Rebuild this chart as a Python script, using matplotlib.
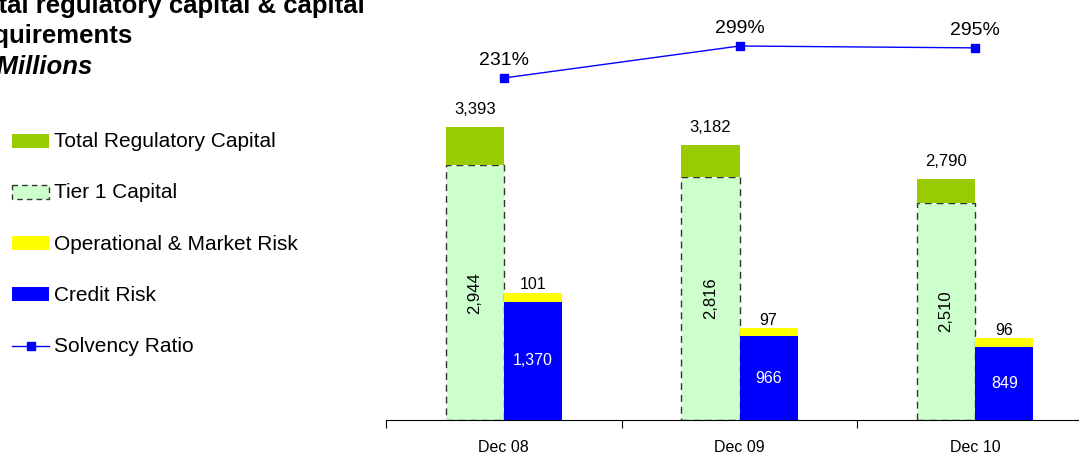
import matplotlib
matplotlib.use("Agg")
import matplotlib.pyplot as plt
from matplotlib.patches import Rectangle
from matplotlib.lines import Line2D

plt.rcParams['font.family'] = ['Liberation Sans', 'DejaVu Sans']

# data
periods = ["Dec 08", "Dec 09", "Dec 10"]
total_capital = [3393, 3182, 2790]
tier1_capital = [2944, 2816, 2510]
credit_risk = [1370, 966, 849]
op_market_risk = [101, 97, 96]
solvency_ratio = [231, 299, 295]

GREEN = "#99CC00"
LIGHT_GREEN = "#CCFFCC"
YELLOW = "#FFFF00"
BLUE = "#0000FF"

W, H = 1079, 453
fig = plt.figure(figsize=(W / 100, H / 100), dpi=100)

# main axes (pixel geometry)
x_left, x_right, y_top, y_bot = 386, 1093, 10, 420
ax = fig.add_axes([x_left / W, 1 - y_bot / H, (x_right - x_left) / W, (y_bot - y_top) / H])
px = 0.08645  # pixels per unit on the bar axis

x = list(range(len(periods)))
bw = 0.247
xg = [i - bw / 2 for i in x]
xb = [i + bw / 2 for i in x]

# tier 1 bars with dashed outline, total capital on top of them
ax.bar(xg, tier1_capital, width=bw, color=LIGHT_GREEN, edgecolor="#333333",
       linestyle=(0, (5, 3.5)), linewidth=1.0, zorder=2)
ax.bar(xg, [t - t1 for t, t1 in zip(total_capital, tier1_capital)], bottom=tier1_capital,
       width=bw, color=GREEN, zorder=3)
ax.bar(xb, credit_risk, width=bw, color=BLUE, zorder=2)
ax.bar(xb, op_market_risk, bottom=credit_risk, width=bw, color=YELLOW, zorder=2)

for i in x:
    ax.text(xg[i], total_capital[i] + 13 / px, f"{total_capital[i]:,}", ha="center", va="baseline", fontsize=12)
    ax.text(xg[i], tier1_capital[i] / 2, f"{tier1_capital[i]:,}", ha="center", va="center",
            rotation=90, fontsize=12, zorder=5)
    ax.text(xb[i], credit_risk[i] / 2, f"{credit_risk[i]:,}", ha="center", va="center",
            color="white", fontsize=11.5, zorder=5)
    top = credit_risk[i] + op_market_risk[i]
    ax.text(xb[i], top + 3.5 / px, f"{op_market_risk[i]}", ha="center", va="baseline", fontsize=11.5)

ax.set_xlim(-0.5, 2.5)
ax.set_ylim(0, (y_bot - y_top) / px)
ax.set_yticks([])
for s in ["top", "right", "left"]:
    ax.spines[s].set_visible(False)
ax.spines["bottom"].set_linewidth(0.8)
ax.set_xticks([-0.5, 0.5, 1.5, 2.5])
ax.set_xticklabels([])
ax.tick_params(axis="x", length=6, width=0.8, direction="out")
ax.set_xticks(x, minor=True)
ax.set_xticklabels(periods, minor=True, fontsize=11.5)
ax.tick_params(axis="x", which="minor", length=0, pad=14.5)

# solvency ratio on secondary axis
ax2 = ax.twinx()
k = 0.4706
ax2.set_ylim(231 - (y_bot - 78) / k, 231 + (78 - y_top) / k)
ax2.plot(x, solvency_ratio, color=BLUE, linewidth=1.0, marker="s", markersize=5.5, zorder=4)
for i in x:
    ax2.text(x[i], solvency_ratio[i] + 13 / k, f"{solvency_ratio[i]}%", ha="center", va="baseline", fontsize=14)
ax2.axis("off")

# title (clipped at the left edge like the reference)
tx = -31 / W
fig.text(tx, 1 - 13 / H, "Total regulatory capital & capital", fontsize=18.5, fontweight="bold", va="baseline")
fig.text(tx, 1 - 43 / H, "requirements", fontsize=18.5, fontweight="bold", va="baseline")
fig.text(tx + 6 / W, 1 - 74 / H, "€ Millions", fontsize=18.5, fontweight="bold", style="italic", va="baseline")

# legend drawn in figure pixels
lax = fig.add_axes([0, 0, 1, 1])
lax.set_xlim(0, W)
lax.set_ylim(H, 0)
lax.axis("off")
rows = [("Total Regulatory Capital", "patch", GREEN),
        ("Tier 1 Capital", "dashed", LIGHT_GREEN),
        ("Operational & Market Risk", "patch", YELLOW),
        ("Credit Risk", "patch", BLUE),
        ("Solvency Ratio", "line", BLUE)]
for j, (lab, kind, col) in enumerate(rows):
    yc = 140.5 + j * 51.3
    if kind == "line":
        lax.add_line(Line2D([12, 49], [yc, yc], color=col, linewidth=1.0))
        lax.plot([30.5], [yc], marker="s", color=col, markersize=5.5)
    elif kind == "dashed":
        lax.add_patch(Rectangle((12, yc - 7), 37, 14, facecolor=col, edgecolor="#333333",
                                linestyle=(0, (4, 3)), linewidth=1.0))
    else:
        lax.add_patch(Rectangle((12, yc - 7), 37, 14, facecolor=col, edgecolor="none"))
    lax.text(54, yc + 1, lab, fontsize=15, va="center")

fig.savefig("out.png", dpi=100)
